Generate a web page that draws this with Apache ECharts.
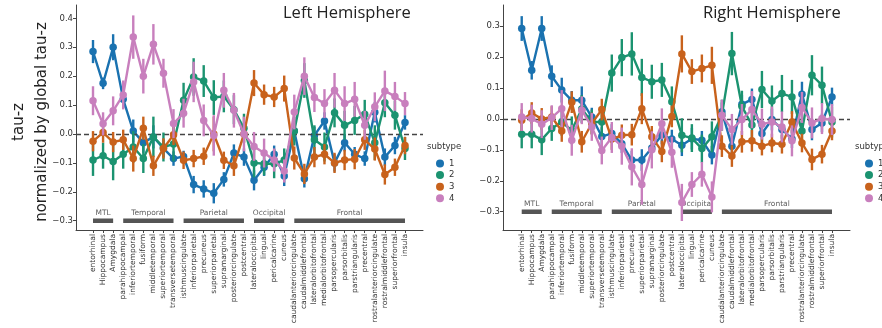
<!DOCTYPE html>
<html>
<head>
<meta charset="utf-8">
<script src="https://cdn.jsdelivr.net/npm/echarts@6/dist/echarts.min.js"></script>
<style>
    html, body { margin: 0; padding: 0; background: #fff; }
    #chart { width: 882px; height: 328px; }
</style>
</head>
<body>
<div id="chart"></div>
<script>
// brain regions along the x axis
const categories = ['entorhinal', 'Hippocampus', 'Amygdala', 'parahippocampal', 'inferiortemporal', 'fusiform',
    'middletemporal', 'superiortemporal', 'transversetemporal', 'isthmuscingulate', 'inferiorparietal', 'precuneus',
    'superiorparietal', 'supramarginal', 'posteriorcingulate', 'postcentral', 'lateraloccipital', 'lingual',
    'pericalcarine', 'cuneus', 'caudalanteriorcingulate', 'caudalmiddlefrontal', 'lateralorbitofrontal',
    'medialorbitofrontal', 'parsopercularis', 'parsorbitalis', 'parstriangularis', 'precentral',
    'rostralanteriorcingulate', 'rostralmiddlefrontal', 'superiorfrontal', 'insula']

// lobe groups: name, first and last category index
const groupNames = ['MTL', 'Temporal', 'Parietal', 'Occipital', 'Frontal']
const groupStart = [0, 3, 9, 16, 20]
const groupEnd = [2, 8, 15, 19, 31]

const subtypes = ['1', '2', '3', '4']
const colors = ['#1a72b0', '#1b9370', '#c8621c', '#c87fbd']

const leftTicks = [-0.3, -0.2, -0.1, 0, 0.1, 0.2, 0.3, 0.4]
const rightTicks = [-0.3, -0.2, -0.1, 0, 0.1, 0.2, 0.3]

// left hemisphere means
const left1 = [0.285, 0.175, 0.30, 0.12, 0.01, -0.03, -0.01, -0.05, -0.085, -0.078, -0.175, -0.19, -0.205, -0.157, -0.066, -0.08,
    -0.16, -0.115, -0.07, -0.145, 0.01, -0.155, -0.005, 0.045, -0.1, -0.03, -0.07, -0.085, 0.075, -0.08, -0.04, 0.04]
const left2 = [-0.09, -0.075, -0.095, -0.07, -0.045, -0.085, -0.01, -0.045, -0.035, 0.117, 0.197, 0.183, 0.126, 0.13, 0.084, 0.02,
    -0.1, -0.103, -0.103, -0.09, 0.01, 0.185, -0.02, -0.045, 0.073, 0.03, 0.047, 0.068, -0.03, 0.108, 0.065, -0.05]
const left3 = [-0.025, 0.005, -0.028, -0.02, -0.085, 0.02, -0.11, -0.05, -0.003, -0.091, -0.085, -0.077, 0.0, -0.091, -0.11, 0.0,
    0.176, 0.136, 0.128, 0.157, -0.083, -0.138, -0.08, -0.07, -0.1, -0.09, -0.087, -0.02, -0.052, -0.14, -0.115, -0.04]
const left4 = [0.115, 0.035, 0.08, 0.135, 0.335, 0.2, 0.31, 0.21, 0.036, 0.072, 0.18, 0.047, -0.005, 0.151, 0.082, 0.0,
    -0.043, -0.066, -0.09, -0.128, 0.076, 0.2, 0.126, 0.105, 0.151, 0.105, 0.12, 0.03, 0.094, 0.149, 0.13, 0.105]

// left hemisphere error bar half widths
const leftErr1 = [0.04, 0.02, 0.045, 0.03, 0.04, 0.035, 0.04, 0.03, 0.025, 0.02, 0.03, 0.03, 0.035, 0.025, 0.03, 0.03,
    0.035, 0.03, 0.03, 0.035, 0.03, 0.03, 0.03, 0.03, 0.03, 0.03, 0.025, 0.025, 0.035, 0.03, 0.03, 0.025]
const leftErr2 = [0.055, 0.045, 0.065, 0.05, 0.055, 0.05, 0.07, 0.05, 0.06, 0.06, 0.065, 0.055, 0.06, 0.055, 0.05, 0.05,
    0.05, 0.04, 0.05, 0.04, 0.05, 0.06, 0.05, 0.05, 0.05, 0.05, 0.05, 0.05, 0.06, 0.05, 0.05, 0.04]
const leftErr3 = [0.035, 0.035, 0.035, 0.035, 0.045, 0.04, 0.035, 0.035, 0.035, 0.03, 0.03, 0.03, 0.06, 0.03, 0.035, 0.03,
    0.045, 0.035, 0.035, 0.045, 0.04, 0.035, 0.035, 0.035, 0.035, 0.035, 0.035, 0.035, 0.04, 0.035, 0.03, 0.03]
const leftErr4 = [0.05, 0.04, 0.05, 0.05, 0.075, 0.06, 0.07, 0.05, 0.05, 0.05, 0.07, 0.055, 0.07, 0.06, 0.06, 0.06,
    0.05, 0.05, 0.04, 0.04, 0.06, 0.065, 0.05, 0.05, 0.06, 0.06, 0.06, 0.05, 0.05, 0.07, 0.05, 0.04]

// right hemisphere means
const right1 = [0.292, 0.157, 0.292, 0.138, 0.093, 0.06, 0.06, 0.006, -0.057, -0.047, -0.08, -0.133, -0.133, -0.094, -0.052, -0.065,
    -0.085, -0.064, -0.069, -0.117, 0.023, -0.088, 0.047, 0.063, -0.047, -0.002, -0.034, -0.064, 0.08, -0.034, -0.013, 0.071]
const right2 = [-0.05, -0.05, -0.067, -0.031, -0.01, -0.037, 0.032, -0.01, -0.01, 0.148, 0.198, 0.21, 0.134, 0.12, 0.126, 0.055,
    -0.053, -0.062, -0.096, -0.058, 0.012, 0.211, 0.041, -0.02, 0.095, 0.058, 0.082, 0.071, -0.039, 0.141, 0.109, -0.01]
const right3 = [-0.004, 0.019, 0.0, 0.006, -0.039, 0.054, -0.074, -0.015, 0.03, -0.065, -0.053, -0.051, 0.033, -0.058, -0.105, 0.008,
    0.21, 0.153, 0.163, 0.173, -0.088, -0.12, -0.074, -0.071, -0.088, -0.078, -0.082, -0.01, -0.078, -0.131, -0.114, -0.039]
const right4 = [0.006, 0.001, -0.017, 0.004, 0.033, -0.069, 0.028, -0.026, -0.102, -0.06, -0.088, -0.155, -0.212, -0.1, -0.016, -0.108,
    -0.27, -0.212, -0.179, -0.252, 0.012, -0.034, -0.002, 0.03, -0.017, -0.01, -0.026, -0.071, 0.037, -0.013, 0.001, -0.002]

// right hemisphere error bar half widths
const rightErr1 = [0.04, 0.03, 0.04, 0.035, 0.04, 0.03, 0.045, 0.03, 0.03, 0.03, 0.03, 0.03, 0.035, 0.03, 0.03, 0.03,
    0.035, 0.035, 0.03, 0.03, 0.03, 0.04, 0.03, 0.035, 0.03, 0.035, 0.03, 0.03, 0.04, 0.035, 0.03, 0.03]
const rightErr2 = [0.045, 0.045, 0.05, 0.04, 0.045, 0.045, 0.045, 0.04, 0.05, 0.06, 0.06, 0.07, 0.06, 0.055, 0.055, 0.05,
    0.055, 0.045, 0.045, 0.05, 0.05, 0.07, 0.05, 0.05, 0.06, 0.05, 0.06, 0.055, 0.05, 0.065, 0.06, 0.05]
const rightErr3 = [0.035, 0.035, 0.035, 0.035, 0.035, 0.035, 0.035, 0.035, 0.035, 0.035, 0.035, 0.035, 0.05, 0.035, 0.035, 0.035,
    0.06, 0.04, 0.045, 0.06, 0.035, 0.035, 0.035, 0.035, 0.03, 0.03, 0.03, 0.035, 0.03, 0.035, 0.03, 0.03]
const rightErr4 = [0.045, 0.045, 0.045, 0.04, 0.06, 0.05, 0.045, 0.045, 0.045, 0.05, 0.06, 0.06, 0.065, 0.06, 0.05, 0.05,
    0.06, 0.04, 0.04, 0.05, 0.05, 0.05, 0.05, 0.06, 0.05, 0.05, 0.05, 0.05, 0.05, 0.05, 0.05, 0.05]

const font = 'DejaVu Sans'
const idx = categories.map((c, i) => i)

function tickText(v) {
    let s = Math.abs(v).toFixed(1)
    return (v < -0.001 ? '\u2212' : '') + s
}

function makeXAxis(grid, min, max) {
    return {
        type: 'value', gridIndex: grid, min: min, max: max,
        axisLine: {show: true, onZero: false, lineStyle: {color: '#444', width: 1}},
        axisTick: {show: true, customValues: idx, length: 3, lineStyle: {color: '#444'}},
        axisLabel: {
            customValues: idx, rotate: 90, margin: 4, fontSize: 7.5, color: '#333', fontFamily: font,
            formatter: v => categories[Math.round(v)]
        },
        splitLine: {show: false}
    }
}

function makeYAxis(grid, min, max, ticks) {
    return {
        type: 'value', gridIndex: grid, min: min, max: max,
        axisLine: {show: true, onZero: false, lineStyle: {color: '#444', width: 1}},
        axisTick: {show: true, customValues: ticks, length: 3, lineStyle: {color: '#444'}},
        axisLabel: {customValues: ticks, margin: 3, fontSize: 8.5, color: '#333', fontFamily: font, formatter: tickText},
        splitLine: {show: false}
    }
}

function errorSeries(vals, errs, color, axis, z) {
    return {
        type: 'custom', xAxisIndex: axis, yAxisIndex: axis, silent: true, z: z,
        data: vals.map((v, i) => [i, v - errs[i], v + errs[i]]),
        encode: {x: 0, y: [1, 2]},
        renderItem: function (params, api) {
            let lo = api.coord([api.value(0), api.value(1)])
            let hi = api.coord([api.value(0), api.value(2)])
            return {
                type: 'line',
                shape: {x1: lo[0], y1: lo[1], x2: hi[0], y2: hi[1]},
                style: {stroke: color, lineWidth: 2.4}
            }
        }
    }
}

function lineSeries(name, vals, color, axis, z) {
    return {
        type: 'line', name: name, xAxisIndex: axis, yAxisIndex: axis, z: z,
        data: vals.map((v, i) => [i, v]),
        symbol: 'circle', symbolSize: 7.5,
        itemStyle: {color: color},
        lineStyle: {color: color, width: 2.4},
        emphasis: {disabled: true},
        animation: false
    }
}

function panelSeries(means, errs, axis) {
    let out = []
    for (let k = 0; k < 4; k++) {
        out.push(errorSeries(means[k], errs[k], colors[k], axis, 3 + k * 2))
        out.push(lineSeries(subtypes[k], means[k], colors[k], axis, 4 + k * 2))
    }
    // dashed zero line
    out.push({
        type: 'line', xAxisIndex: axis, yAxisIndex: axis, data: [], z: 20, silent: true,
        markLine: {
            symbol: 'none', silent: true, label: {show: false},
            lineStyle: {color: '#444', type: [5, 3], width: 1.4},
            data: [{yAxis: 0}]
        }
    })
    // lobe bars and names
    for (let g = 0; g < groupNames.length; g++) {
        out.push({
            type: 'line', xAxisIndex: axis, yAxisIndex: axis, z: 1, silent: true, symbol: 'none',
            data: [[groupStart[g], -0.3], [groupEnd[g], -0.3]],
            lineStyle: {color: '#555', width: 4.5}
        })
    }
    out.push({
        type: 'scatter', xAxisIndex: axis, yAxisIndex: axis, z: 1, silent: true, symbolSize: 0,
        data: groupNames.map((n, g) => [(groupStart[g] + groupEnd[g]) / 2, -0.3, n]),
        label: {
            show: true, position: 'top', distance: 4, fontSize: 7.5, color: '#333', fontFamily: font,
            formatter: p => p.data[2]
        }
    })
    return out
}

let chart = echarts.init(document.getElementById('chart'))

let legendBase = {
    data: subtypes, orient: 'vertical', top: 154, icon: 'circle', itemWidth: 8, itemHeight: 8, itemGap: 2.6,
    selectedMode: false, textStyle: {fontSize: 8.5, color: '#333', fontFamily: font, lineHeight: 8}
}

let option = {
    animation: false,
    grid: [
        {left: 76, top: 5, width: 347, height: 225},
        {left: 503, top: 5, width: 347, height: 225}
    ],
    xAxis: [makeXAxis(0, -1.69, 32.79), makeXAxis(1, -1.87, 32.8)],
    yAxis: [makeYAxis(0, -0.332, 0.446, leftTicks), makeYAxis(1, -0.359, 0.368, rightTicks)],
    legend: [
        Object.assign({left: 431}, legendBase),
        Object.assign({left: 860}, legendBase)
    ],
    graphic: [
        {type: 'text', left: 283, top: 5, style: {text: 'Left Hemisphere', font: '16.5px "Open Sans"', fill: '#222'}},
        {type: 'text', left: 703, top: 5, style: {text: 'Right Hemisphere', font: '16.5px "Open Sans"', fill: '#222'}},
        {type: 'text', left: 427, top: 142, style: {text: 'subtype', font: '8.5px "DejaVu Sans"', fill: '#333'}},
        {type: 'text', left: 855, top: 142, style: {text: 'subtype', font: '8.5px "DejaVu Sans"', fill: '#333'}},
        {
            type: 'text', x: 19, y: 122, rotation: Math.PI / 2,
            style: {text: 'tau-z', font: '15px "DejaVu Sans"', fill: '#222', textAlign: 'center', textVerticalAlign: 'middle'}
        },
        {
            type: 'text', x: 42, y: 122, rotation: Math.PI / 2,
            style: {text: 'normalized by global tau-z', font: '15px "DejaVu Sans"', fill: '#222', textAlign: 'center', textVerticalAlign: 'middle'}
        }
    ],
    series: panelSeries([left1, left2, left3, left4], [leftErr1, leftErr2, leftErr3, leftErr4], 0)
        .concat(panelSeries([right1, right2, right3, right4], [rightErr1, rightErr2, rightErr3, rightErr4], 1))
}

chart.setOption(option)
</script>
</body>
</html>
